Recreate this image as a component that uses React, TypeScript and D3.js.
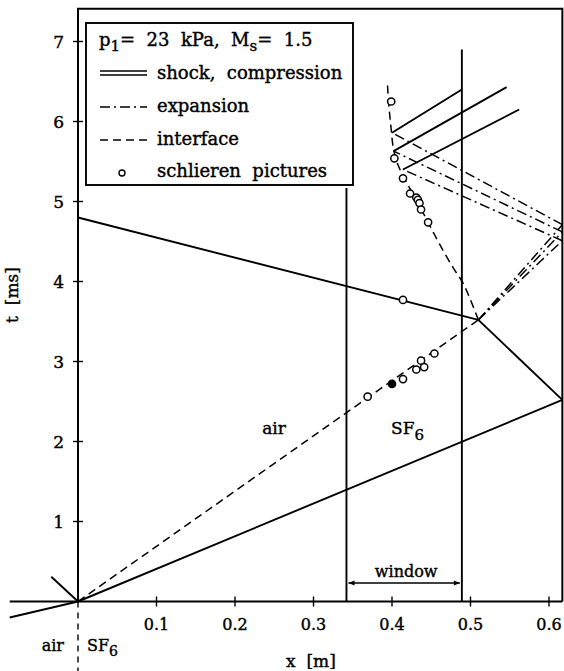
import React from "react";
import * as d3 from "d3";

type P = [number, number];

// x [m], t [ms]
const wallX = 0.617;
const tMax = 7.41;
const xTicks = [0.1, 0.2, 0.3, 0.4, 0.5, 0.6];
const tTicks = [1, 2, 3, 4, 5, 6, 7];

const incidentShock: P[] = [[-0.087, -0.2], [0, 0]];
const reflectedWaveAir: P[] = [[-0.034, 0.31], [0, 0]];
const transmittedShock: P[] = [[0, 0], [wallX, 2.52]];
const reflectedShock: P[] = [[wallX, 2.52], [0.51, 3.52]];
const transmittedBackShock: P[] = [[0.51, 3.52], [0, 4.8]];
const interfaceBefore: P[] = [[0, 0], [0.51, 3.52]];
const interfaceAfter: P[] = [
  [0.51, 3.52], [0.491, 3.97], [0.478, 4.17], [0.461, 4.46], [0.446, 4.74],
  [0.432, 5.0], [0.418, 5.25], [0.408, 5.45], [0.402, 5.65], [0.399, 5.9],
  [0.396, 6.2], [0.394, 6.5],
];
const fanOrigin: P = [0.51, 3.52];
const fanWallT = [4.71, 4.62, 4.51];
const fanInterfaceHits: P[] = [[0.4, 5.86], [0.402, 5.63], [0.414, 5.4]];
const compressionEnds: P[] = [[0.489, 6.4], [0.546, 6.43], [0.562, 6.15]];

const schlieren: P[] = [
  [0.399, 6.25], [0.403, 5.54], [0.414, 5.29], [0.423, 5.1], [0.431, 5.05],
  [0.433, 5.02], [0.435, 4.98], [0.437, 4.9], [0.446, 4.74],
  [0.414, 3.77],
  [0.454, 3.1], [0.437, 3.01], [0.441, 2.93], [0.431, 2.9], [0.414, 2.78],
  [0.369, 2.56],
];
const schlierenFilled: P[] = [[0.4, 2.72]];

const windowX = [0.342, 0.489];
const windowTop = [5.17, 6.9];

const FONT = "'DejaVu Serif', 'Liberation Serif', serif";

export default function App() {
  const x = d3.scaleLinear().domain([0, 0.6]).range([78, 549]);
  const y = d3.scaleLinear().domain([0, 7]).range([601.5, 41.5]);
  const line = d3
    .line<P>()
    .x((d) => x(d[0]))
    .y((d) => y(d[1]));
  const curve = d3
    .line<P>()
    .x((d) => x(d[0]))
    .y((d) => y(d[1]))
    .curve(d3.curveCatmullRom);

  const solid = { fill: "none", stroke: "#000", strokeWidth: 1.9 };
  const dashed = { ...solid, strokeWidth: 1.5, strokeDasharray: "8,5" };
  const dashDot = { ...solid, strokeWidth: 1.5, strokeDasharray: "10,4,2,4" };

  const x0 = x(0);
  const xR = x(wallX);
  const yTop = y(tMax);
  const yAx = y(0);
  const txt = { stroke: "#000", strokeWidth: 0.4, style: { whiteSpace: "pre" as const } };

  return (
    <svg
      width={564}
      height={671}
      style={{ position: "absolute", left: 0, top: 0, background: "#fff" }}
      fontFamily={FONT}
    >
      <defs>
        <marker id="arr" viewBox="0 0 10 10" refX="10" refY="5" markerWidth="9" markerHeight="6" orient="auto-start-reverse" markerUnits="userSpaceOnUse">
          <path d="M0,1 L10,5 L0,9 z" fill="#000" />
        </marker>
      </defs>
      {/* frame */}
      <path d={`M${x0},${yAx} L${x0},${yTop} L${xR},${yTop} L${xR},${yAx}`} {...solid} strokeWidth={2} />
      <line x1={x(-0.087)} x2={xR} y1={yAx} y2={yAx} stroke="#000" strokeWidth={2} />
      {/* ticks */}
      {xTicks.map((v) => (
        <g key={"xt" + v}>
          <line x1={x(v)} x2={x(v)} y1={yAx - 5} y2={yAx + 5} stroke="#000" strokeWidth={1.4} />
          <text x={x(v)} y={yAx + 28} fontSize={16} textAnchor="middle" {...txt}>{v.toFixed(1)}</text>
        </g>
      ))}
      {tTicks.map((v) => (
        <g key={"yt" + v}>
          <line x1={x0 - 5} x2={x0 + 5} y1={y(v)} y2={y(v)} stroke="#000" strokeWidth={1.4} />
          <text x={x0 - 14} y={y(v) + 6} fontSize={17} textAnchor="end" {...txt}>{v}</text>
        </g>
      ))}
      <text x={286} y={667} fontSize={17} {...txt}>{"x  [m]"}</text>
      <text transform={`translate(18,295) rotate(-90)`} fontSize={17} textAnchor="middle" {...txt}>{"t  [ms]"}</text>

      {/* below-axis interface marker */}
      <line x1={x0} x2={x0} y1={yAx} y2={671} stroke="#000" strokeWidth={1.4} strokeDasharray="6,5" />
      <text x={64} y={651} fontSize={16} textAnchor="end" {...txt}>air</text>
      <text x={87} y={651} fontSize={16} {...txt}>SF<tspan dy={5} fontSize={14}>6</tspan></text>

      {/* window */}
      {windowX.map((v, i) => (
        <line key={"w" + i} x1={x(v)} x2={x(v)} y1={yAx} y2={y(windowTop[i])} stroke="#000" strokeWidth={1.9} />
      ))}
      <line x1={x(windowX[0]) + 2} x2={x(windowX[1]) - 2} y1={583} y2={583} stroke="#000" strokeWidth={1.3} markerStart="url(#arr)" markerEnd="url(#arr)" />
      <text x={(x(windowX[0]) + x(windowX[1])) / 2 + 2} y={577} fontSize={16} textAnchor="middle" {...txt}>window</text>

      {/* region labels */}
      <text x={274} y={434} fontSize={17} textAnchor="middle" {...txt}>air</text>
      <text x={391} y={434} fontSize={17} {...txt}>SF<tspan dy={6} fontSize={15}>6</tspan></text>

      {/* waves */}
      <path d={line(incidentShock)!} {...solid} />
      <path d={line(reflectedWaveAir)!} {...solid} />
      <path d={line(transmittedShock)!} {...solid} />
      <path d={line(reflectedShock)!} {...solid} />
      <path d={line(transmittedBackShock)!} {...solid} />
      <path d={line(interfaceBefore)!} {...dashed} />
      <path d={curve(interfaceAfter)!} {...dashed} />
      {fanWallT.map((t, i) => (
        <g key={"fan" + i}>
          <path d={line([fanOrigin, [wallX, t]])!} {...dashDot} />
          <path d={line([[wallX, t], fanInterfaceHits[i]])!} {...dashDot} />
          <path d={line([fanInterfaceHits[i], compressionEnds[i]])!} {...solid} />
        </g>
      ))}

      {/* schlieren points */}
      {schlieren.map((d, i) => (
        <circle key={"s" + i} cx={x(d[0])} cy={y(d[1])} r={3.6} fill="#fff" stroke="#000" strokeWidth={1.5} />
      ))}
      {schlierenFilled.map((d, i) => (
        <circle key={"sf" + i} cx={x(d[0])} cy={y(d[1])} r={3.6} fill="#000" stroke="#000" strokeWidth={1.5} />
      ))}

      {/* legend */}
      <rect x={86} y={23} width={267} height={162} fill="#fff" stroke="#000" strokeWidth={1.9} />
      <text x={99} y={46} fontSize={18} {...txt}>
        p<tspan dy={5} fontSize={15}>1</tspan><tspan dy={-5}>{"=  23  kPa,  M"}</tspan><tspan dy={5} fontSize={15}>s</tspan><tspan dy={-5}>{"=  1.5"}</tspan>
      </text>
      <line x1={100} x2={147} y1={71} y2={71} stroke="#000" strokeWidth={1.6} />
      <line x1={100} x2={147} y1={75} y2={75} stroke="#000" strokeWidth={1.6} />
      <text x={157} y={79} fontSize={18} {...txt}>{"shock,  compression"}</text>
      <line x1={100} x2={147} y1={107} y2={107} {...dashDot} />
      <text x={157} y={112} fontSize={18} {...txt}>expansion</text>
      <line x1={100} x2={147} y1={140} y2={140} {...dashed} />
      <text x={157} y={145} fontSize={18} {...txt}>interface</text>
      <circle cx={122} cy={173} r={3} fill="#fff" stroke="#000" strokeWidth={1.4} />
      <text x={157} y={177} fontSize={18} {...txt}>{"schlieren  pictures"}</text>
    </svg>
  );
}
